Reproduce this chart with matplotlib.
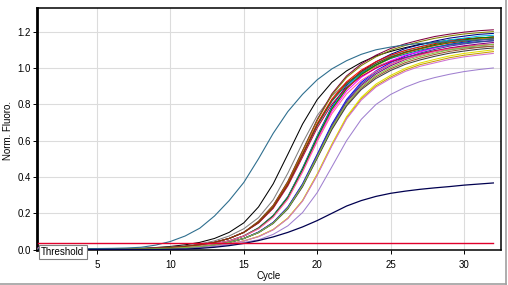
import matplotlib
matplotlib.use("Agg")
import matplotlib.pyplot as plt
from matplotlib.lines import Line2D

plt.rcParams['font.family'] = ['Liberation Sans', 'DejaVu Sans']

cycles = list(range(1, 33))

# Bundle of amplification curves (Norm. Fluoro. per cycle)
bundle_names = ["black", "gray", "maroon", "olive", "navy", "cyan", "red", "orange",
                "blue", "magenta", "purple", "teal", "sienna", "green", "crimson",
                "darkgray", "gold", "yellow", "orchid", "lavender", "slate", "pink",
                "brown", "lightgreen"]
bundle_colors = ["#000000", "#808080", "#800040", "#808000", "#000080", "#00c0e0",
                 "#ff0000", "#ff8000", "#0000ff", "#ff00ff", "#800080", "#008080",
                 "#a0522d", "#008000", "#c00040", "#404040", "#c8a000", "#e0e000",
                 "#d070d0", "#a080d0", "#4040a0", "#ff60a0", "#804000", "#80c040"]

c_black = [0.004, 0.004, 0.004, 0.004, 0.004, 0.0045, 0.0055, 0.0075, 0.0115, 0.0175, 0.0265, 0.04, 0.0615, 0.095, 0.1475,
           0.235, 0.362, 0.525, 0.691, 0.826, 0.921, 0.984, 1.03, 1.066, 1.091, 1.112, 1.13, 1.142, 1.153, 1.16, 1.165, 1.17]
c_gray = [0.005, 0.005, 0.004, 0.004, 0.004, 0.004, 0.005, 0.006, 0.009, 0.014, 0.021, 0.032, 0.048, 0.075, 0.115,
          0.176, 0.274, 0.421, 0.587, 0.738, 0.846, 0.919, 0.968, 1.007, 1.037, 1.056, 1.076, 1.09, 1.10, 1.11, 1.115, 1.12]
c_maroon = [0.006, 0.005, 0.005, 0.004, 0.004, 0.004, 0.0045, 0.0055, 0.0075, 0.0115, 0.0175, 0.0265, 0.04, 0.0615, 0.095,
            0.156, 0.244, 0.376, 0.545, 0.717, 0.858, 0.956, 1.022, 1.07, 1.107, 1.133, 1.154, 1.173, 1.186, 1.197, 1.205, 1.21]
c_olive = [0.003, 0.003, 0.003, 0.004, 0.004, 0.004, 0.0045, 0.0055, 0.0075, 0.0115, 0.0175, 0.0265, 0.04, 0.0615, 0.095,
           0.155, 0.242, 0.373, 0.541, 0.711, 0.851, 0.948, 1.013, 1.061, 1.097, 1.124, 1.145, 1.163, 1.176, 1.187, 1.194, 1.20]
c_navy = [0.007, 0.006, 0.005, 0.005, 0.004, 0.004, 0.004, 0.005, 0.006, 0.009, 0.014, 0.021, 0.032, 0.048, 0.075,
          0.12, 0.188, 0.292, 0.449, 0.626, 0.788, 0.903, 0.981, 1.034, 1.075, 1.107, 1.128, 1.148, 1.164, 1.175, 1.185, 1.19]
c_cyan = [0.004, 0.004, 0.004, 0.004, 0.004, 0.004, 0.004, 0.005, 0.006, 0.009, 0.014, 0.021, 0.032, 0.048, 0.075,
          0.119, 0.186, 0.29, 0.445, 0.621, 0.781, 0.895, 0.973, 1.025, 1.066, 1.097, 1.118, 1.139, 1.154, 1.164, 1.175, 1.18]
c_red = [0.005, 0.005, 0.004, 0.004, 0.004, 0.004, 0.0045, 0.0055, 0.0075, 0.0115, 0.0175, 0.0265, 0.04, 0.0615, 0.095,
         0.151, 0.236, 0.364, 0.527, 0.694, 0.829, 0.924, 0.988, 1.034, 1.07, 1.096, 1.116, 1.134, 1.147, 1.157, 1.165, 1.17]
c_orange = [0.003, 0.003, 0.004, 0.004, 0.004, 0.004, 0.004, 0.005, 0.006, 0.009, 0.014, 0.021, 0.032, 0.048, 0.075,
            0.118, 0.184, 0.286, 0.439, 0.613, 0.772, 0.884, 0.961, 1.012, 1.053, 1.083, 1.104, 1.124, 1.14, 1.15, 1.16, 1.165]
c_blue = [0.008, 0.007, 0.006, 0.005, 0.005, 0.004, 0.004, 0.004, 0.0055, 0.0075, 0.0115, 0.0175, 0.0265, 0.04, 0.0615,
          0.097, 0.15, 0.235, 0.362, 0.525, 0.691, 0.826, 0.921, 0.984, 1.03, 1.066, 1.091, 1.112, 1.13, 1.142, 1.153, 1.16]
c_magenta = [0.006, 0.006, 0.005, 0.005, 0.004, 0.004, 0.004, 0.005, 0.006, 0.009, 0.014, 0.021, 0.032, 0.048, 0.075,
             0.116, 0.182, 0.283, 0.434, 0.605, 0.762, 0.873, 0.948, 0.999, 1.039, 1.07, 1.09, 1.11, 1.125, 1.135, 1.145, 1.15]
c_purple = [0.008, 0.007, 0.006, 0.005, 0.005, 0.004, 0.004, 0.004, 0.0055, 0.0075, 0.0115, 0.0175, 0.0265, 0.04, 0.0615,
            0.095, 0.148, 0.23, 0.356, 0.516, 0.679, 0.812, 0.904, 0.967, 1.012, 1.047, 1.072, 1.092, 1.11, 1.122, 1.132, 1.14]
c_teal = [0.004, 0.004, 0.004, 0.004, 0.004, 0.004, 0.0045, 0.0055, 0.0075, 0.0115, 0.0175, 0.0265, 0.04, 0.0615, 0.095,
          0.149, 0.232, 0.357, 0.519, 0.682, 0.816, 0.909, 0.972, 1.017, 1.052, 1.077, 1.098, 1.115, 1.128, 1.138, 1.145, 1.15]
c_sienna = [0.003, 0.003, 0.003, 0.003, 0.004, 0.004, 0.004, 0.004, 0.0055, 0.0075, 0.0115, 0.0175, 0.0265, 0.04, 0.0615,
            0.094, 0.145, 0.227, 0.35, 0.507, 0.667, 0.798, 0.889, 0.951, 0.995, 1.029, 1.054, 1.074, 1.091, 1.103, 1.113, 1.12]
c_green = [0.004, 0.004, 0.004, 0.004, 0.004, 0.004, 0.004, 0.005, 0.006, 0.009, 0.014, 0.021, 0.032, 0.048, 0.075,
           0.118, 0.185, 0.287, 0.441, 0.616, 0.775, 0.887, 0.964, 1.016, 1.057, 1.088, 1.108, 1.129, 1.144, 1.154, 1.165, 1.17]
c_crimson = [0.009, 0.008, 0.007, 0.006, 0.005, 0.005, 0.005, 0.0055, 0.0075, 0.0115, 0.0175, 0.0265, 0.04, 0.0615, 0.095,
             0.146, 0.227, 0.351, 0.509, 0.67, 0.801, 0.893, 0.954, 0.999, 1.034, 1.058, 1.078, 1.095, 1.108, 1.118, 1.125, 1.13]
c_darkgray = [0.004, 0.004, 0.004, 0.004, 0.004, 0.004, 0.004, 0.004, 0.0055, 0.0075, 0.0115, 0.0175, 0.0265, 0.04, 0.0615,
              0.093, 0.144, 0.224, 0.346, 0.503, 0.661, 0.791, 0.881, 0.942, 0.986, 1.02, 1.044, 1.064, 1.081, 1.093, 1.103, 1.11]
c_gold = [0.003, 0.003, 0.003, 0.004, 0.004, 0.004, 0.004, 0.004, 0.005, 0.006, 0.009, 0.014, 0.021, 0.032, 0.048,
          0.072, 0.11, 0.173, 0.269, 0.413, 0.576, 0.725, 0.83, 0.902, 0.95, 0.989, 1.018, 1.037, 1.056, 1.07, 1.08, 1.09]
c_yellow = [0.004, 0.004, 0.004, 0.004, 0.004, 0.004, 0.004, 0.004, 0.005, 0.006, 0.009, 0.014, 0.021, 0.032, 0.048,
            0.073, 0.111, 0.174, 0.271, 0.417, 0.581, 0.732, 0.838, 0.911, 0.959, 0.998, 1.027, 1.047, 1.066, 1.08, 1.09, 1.10]
c_orchid = [0.009, 0.008, 0.007, 0.006, 0.005, 0.005, 0.004, 0.004, 0.005, 0.006, 0.009, 0.014, 0.021, 0.032, 0.048,
            0.071, 0.109, 0.171, 0.267, 0.409, 0.571, 0.719, 0.823, 0.895, 0.942, 0.981, 1.009, 1.028, 1.047, 1.061, 1.071, 1.08]
c_lavender = [0.008, 0.007, 0.006, 0.005, 0.005, 0.004, 0.004, 0.004, 0.004, 0.0055, 0.0075, 0.0115, 0.0175, 0.0265, 0.04,
              0.054, 0.084, 0.131, 0.204, 0.314, 0.456, 0.60, 0.717, 0.799, 0.854, 0.894, 0.925, 0.947, 0.965, 0.98, 0.991, 1.0]
c_slate = [0.006, 0.006, 0.005, 0.005, 0.004, 0.004, 0.004, 0.004, 0.0055, 0.0075, 0.0115, 0.0175, 0.0265, 0.04, 0.0615,
           0.096, 0.149, 0.233, 0.359, 0.521, 0.685, 0.819, 0.912, 0.976, 1.021, 1.056, 1.082, 1.102, 1.12, 1.132, 1.142, 1.15]
c_pink = [0.005, 0.005, 0.005, 0.004, 0.004, 0.004, 0.004, 0.005, 0.006, 0.009, 0.014, 0.021, 0.032, 0.048, 0.075,
          0.114, 0.178, 0.277, 0.426, 0.595, 0.748, 0.857, 0.932, 0.981, 1.021, 1.05, 1.07, 1.09, 1.105, 1.115, 1.125, 1.13]
c_brown = [0.004, 0.004, 0.004, 0.004, 0.004, 0.004, 0.0045, 0.0055, 0.0075, 0.0115, 0.0175, 0.0265, 0.04, 0.0615, 0.095,
           0.15, 0.233, 0.36, 0.523, 0.688, 0.822, 0.916, 0.979, 1.025, 1.061, 1.086, 1.106, 1.124, 1.137, 1.147, 1.155, 1.16]
c_lightgreen = [0.004, 0.004, 0.004, 0.004, 0.004, 0.004, 0.004, 0.004, 0.0055, 0.0075, 0.0115, 0.0175, 0.0265, 0.04, 0.0615,
                0.094, 0.146, 0.228, 0.353, 0.511, 0.673, 0.804, 0.896, 0.958, 1.003, 1.038, 1.063, 1.082, 1.10, 1.112, 1.122, 1.13]

bundle_values = [c_black, c_gray, c_maroon, c_olive, c_navy, c_cyan, c_red, c_orange,
                 c_blue, c_magenta, c_purple, c_teal, c_sienna, c_green, c_crimson,
                 c_darkgray, c_gold, c_yellow, c_orchid, c_lavender, c_slate, c_pink,
                 c_brown, c_lightgreen]

# Early (steel-blue) curve and late (dark navy) curve
early_curve = [0.004, 0.004, 0.005, 0.005, 0.006, 0.007, 0.009, 0.013, 0.025, 0.045, 0.075, 0.118, 0.185, 0.27, 0.37,
               0.50, 0.64, 0.76, 0.855, 0.935, 0.995, 1.04, 1.075, 1.10, 1.115, 1.127, 1.135, 1.14, 1.145, 1.15, 1.155, 1.16]
late_curve = [0.001, 0.001, 0.001, 0.001, 0.001, 0.001, 0.001, 0.001, 0.001, 0.002, 0.003, 0.007, 0.013, 0.022, 0.034,
              0.05, 0.07, 0.095, 0.125, 0.16, 0.20, 0.24, 0.27, 0.293, 0.31, 0.322, 0.332, 0.34, 0.347, 0.355, 0.361, 0.367]
threshold = 0.036

xticks = [5, 10, 15, 20, 25, 30]
yticks = [0.0, 0.2, 0.4, 0.6, 0.8, 1.0, 1.2]

W, H = 508, 285
fig = plt.figure(figsize=(W / 100, H / 100), dpi=100)
fig.patch.set_facecolor("white")
ax = fig.add_axes([37 / W, 1 - 250 / H, (501 - 37) / W, (250 - 8) / H])

for vals, col in zip(bundle_values, bundle_colors):
    ax.plot(cycles, vals, color=col, lw=0.75, zorder=3)
ax.plot(cycles, early_curve, color="#2f6f8f", lw=0.8, zorder=4)
ax.plot(cycles, late_curve, color="#000050", lw=0.9, zorder=4)
ax.plot([cycles[0], cycles[-1]], [threshold, threshold], color="#e0002c", lw=1.0, zorder=5)

ax.set_xlim(0.91, 32.52)
ax.set_ylim(-0.002, 1.33)
ax.set_xticks(xticks)
ax.set_xticklabels([str(t) for t in xticks])
ax.set_yticks(yticks)
ax.set_yticklabels([f"{t:.1f}" for t in yticks])
ax.grid(True, color="#dcdcdc", lw=0.8, zorder=0)
ax.set_axisbelow(True)
ax.tick_params(axis="y", labelsize=7, length=3, width=0.7, pad=1.5, colors="black")
ax.tick_params(axis="x", labelsize=7, length=3, width=0.7, pad=4, colors="black")

for side in ["top", "right", "bottom"]:
    ax.spines[side].set_linewidth(1.1)
    ax.spines[side].set_color("black")
ax.spines["left"].set_linewidth(2.0)
ax.spines["left"].set_color("black")

fig.text(8 / W, 1 - 130 / H, "Norm. Fluoro.", rotation=90, ha="center", va="center", fontsize=7)
fig.text(269 / W, 1 - 276 / H, "Cycle", ha="center", va="center", fontsize=7)

fig.text(41 / W, 1 - 252 / H, "Threshold", ha="left", va="center", fontsize=7, zorder=10,
         bbox=dict(boxstyle="square,pad=0.25", facecolor="white", edgecolor="#808080", lw=0.8))

# window-style frame at bottom and right
fig.add_artist(Line2D([0, 506 / W], [1.5 / H, 1.5 / H], color="#a0a0a0", lw=1.2, transform=fig.transFigure))
fig.add_artist(Line2D([505.5 / W, 505.5 / W], [1.5 / H, 1], color="#a0a0a0", lw=1.2, transform=fig.transFigure))

fig.savefig("out.png", dpi=100, facecolor="white")
